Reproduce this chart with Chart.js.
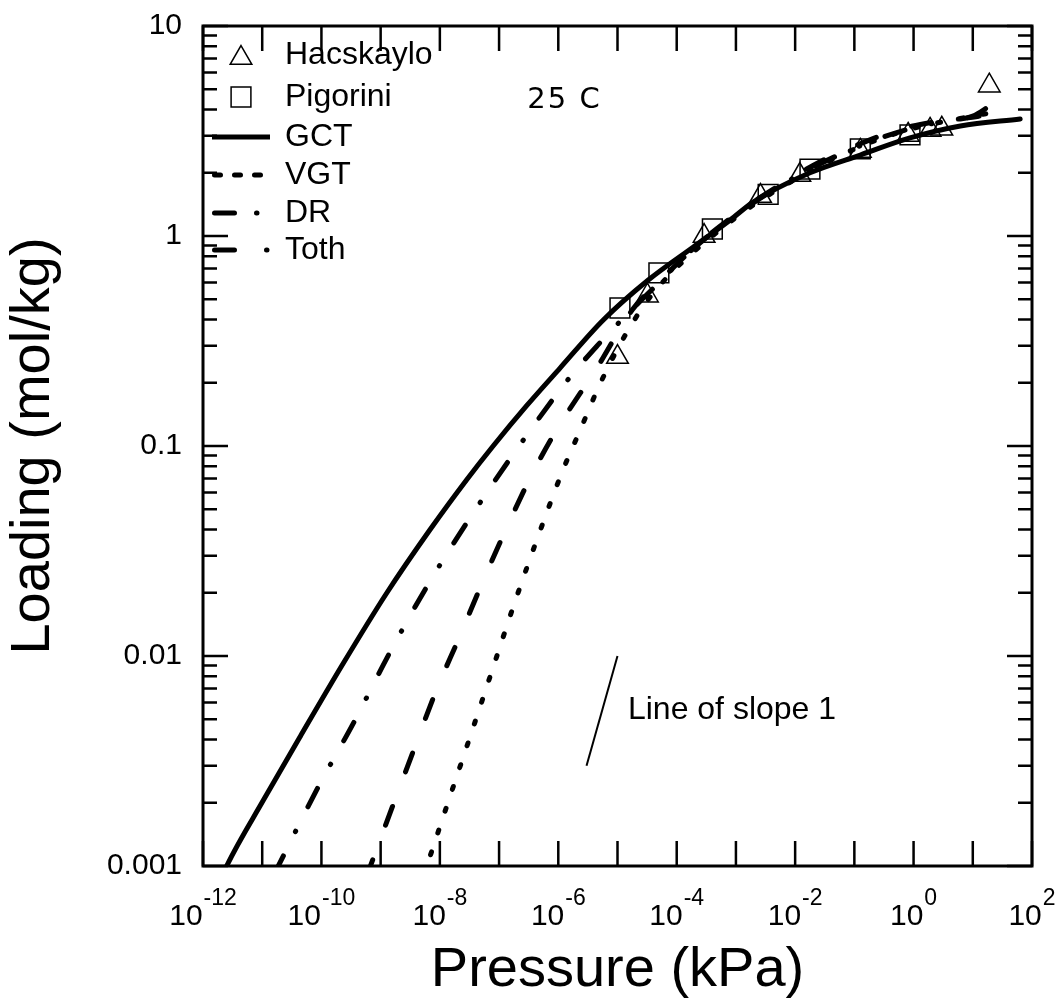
<!DOCTYPE html>
<html>
<head>
<meta charset="utf-8">
<script src="https://cdn.jsdelivr.net/npm/chart.js@4.4.1/dist/chart.umd.min.js"></script>
<style>
  html, body { margin: 0; padding: 0; background: #fff; }
  #wrap { width: 1060px; height: 1002px; }
</style>
</head>
<body>
<div id="wrap"><canvas id="chart" width="1060" height="1002"></canvas></div>
<script>
// measured points
const hacskayloP = [1.0e-5, 3.2e-5, 2.9e-4, 2.6e-3, 0.012, 0.126, 0.81, 1.9, 3.0, 19];
const hacskayloQ = [0.265, 0.52, 1.0, 1.55, 1.95, 2.54, 3.03, 3.2, 3.24, 5.2];
const pigoriniP = [1.1e-5, 5.0e-5, 4.0e-4, 3.5e-3, 0.0178, 0.126, 0.87];
const pigoriniQ = [0.454, 0.667, 1.08, 1.58, 2.08, 2.60, 3.03];

// model curves
const gctP = [2.1e-12, 2.51e-12, 1.05e-11, 4.37e-11, 2.34e-10, 1.26e-9, 6.76e-9, 2.82e-8, 7.94e-8, 2.95e-7,
  1.07e-6, 5.75e-6, 3.31e-5, 1.91e-4, 7.94e-4, 1.95e-3, 0.0178, 0.126, 0.871, 6.17, 63.1];
const gctQ = [8.9e-4, 0.001, 0.00206, 0.00413, 0.00923, 0.0199, 0.0398, 0.0689, 0.1, 0.156,
  0.235, 0.398, 0.617, 0.887, 1.19, 1.45, 2.0, 2.43, 2.93, 3.34, 3.61];

const vgtP = [5.25e-9, 1.48e-8, 3.47e-8, 7.94e-8, 1.86e-7, 4.57e-7, 1.2e-6, 2.34e-6, 5.13e-6, 1.26e-5,
  3.16e-5, 1e-4, 4e-4, 2e-3, 0.01, 0.05, 0.25, 1.26, 5, 19];
const vgtQ = [8.9e-4, 2.14e-3, 4.37e-3, 8.83e-3, 0.01816, 0.0372, 0.0769, 0.119, 0.199, 0.326,
  0.49, 0.708, 1.0, 1.41, 1.86, 2.37, 2.88, 3.31, 3.59, 3.85];

const drP = [1.58e-11, 8.9e-11, 3.47e-10, 1.45e-9, 6.76e-9, 3.47e-8, 2.14e-7, 1.58e-6, 4.68e-6, 1.26e-5,
  3.98e-5, 1.91e-4, 1e-3, 5e-3, 0.025, 0.126, 0.63, 3.16, 12.6, 19];
const drQ = [9.1e-4, 2.39e-3, 4.79e-3, 0.01047, 0.0226, 0.0469, 0.0993, 0.213, 0.303, 0.407,
  0.562, 0.871, 1.26, 1.70, 2.19, 2.69, 3.16, 3.51, 3.72, 3.80];

const tothP = [5.6e-10, 1.74e-9, 3.8e-9, 8.5e-9, 2.09e-8, 5.13e-8, 1.29e-7, 3.55e-7, 9.3e-7, 4.68e-6,
  1.78e-5, 6.3e-5, 2.5e-4, 1e-3, 5e-3, 0.025, 0.126, 0.63, 3.16, 10, 19.5];
const tothQ = [8.7e-4, 2.06e-3, 3.7e-3, 6.75e-3, 0.01213, 0.0221, 0.0398, 0.0728, 0.119, 0.240,
  0.445, 0.646, 0.933, 1.27, 1.72, 2.24, 2.75, 3.24, 3.55, 3.72, 4.17];

const slopeP = [3e-6, 1e-5];
const slopeQ = [3e-3, 1e-2];

// axes
const xTickVals = [1e-12, 1e-11, 1e-10, 1e-9, 1e-8, 1e-7, 1e-6, 1e-5, 1e-4, 1e-3, 1e-2, 1e-1, 1, 10, 100];
const xLabelVals = [1e-12, 1e-10, 1e-8, 1e-6, 1e-4, 1e-2, 1, 100];
const xLabelExps = ['-12', '-10', '-8', '-6', '-4', '-2', '0', '2'];
const yTickVals = [0.001, 0.01, 0.1, 1, 10];
const yTickLabels = ['0.001', '0.01', '0.1', '1', '10'];
const yMinorVals = [0.002, 0.003, 0.004, 0.005, 0.006, 0.007, 0.008, 0.009,
  0.02, 0.03, 0.04, 0.05, 0.06, 0.07, 0.08, 0.09,
  0.2, 0.3, 0.4, 0.5, 0.6, 0.7, 0.8, 0.9,
  2, 3, 4, 5, 6, 7, 8, 9];

const FONT = "'Liberation Sans', Arial, Helvetica, sans-serif";

function pts(xs, ys) {
  return xs.map((v, i) => ({x: v, y: ys[i]}));
}

function curve(label, xs, ys, dash, legendDash) {
  return {
    label: label,
    data: pts(xs, ys),
    showLine: true,
    borderColor: '#000',
    backgroundColor: '#000',
    borderWidth: 5,
    borderDash: dash,
    borderCapStyle: 'round',
    borderJoinStyle: 'round',
    cubicInterpolationMode: 'monotone',
    pointRadius: 0,
    pointHoverRadius: 0,
    clip: 0,
    legendDash: legendDash
  };
}

function marks(label, xs, ys, style, radius) {
  return {
    label: label,
    data: pts(xs, ys),
    showLine: false,
    pointStyle: style,
    pointRadius: radius,
    pointHoverRadius: radius,
    pointBorderWidth: 1.5,
    borderColor: '#000',
    backgroundColor: 'rgba(0,0,0,0)'
  };
}

const datasets = [
  marks('Hacskaylo', hacskayloP, hacskayloQ, 'triangle', 12.5),
  marks('Pigorini', pigoriniP, pigoriniQ, 'rect', 14),
  curve('GCT', gctP, gctQ, [], []),
  curve('VGT', vgtP, vgtQ, [3, 20], [6, 14]),
  curve('DR', drP, drQ, [21, 27, 0.5, 27], [20, 22, 0.5, 100]),
  curve('Toth', tothP, tothQ, [20, 37], [20, 32, 0.5, 100]),
  {
    label: 'slope',
    data: pts(slopeP, slopeQ),
    showLine: true,
    borderColor: '#000',
    borderWidth: 2,
    pointRadius: 0,
    pointHoverRadius: 0
  }
];

// legend rows, offsets from the chart area's top-left corner
const legendRows = [29, 71, 111, 149, 187, 224];

const framePlugin = {
  id: 'frame',
  afterDatasetsDraw(chart) {
    const {ctx, chartArea: a, scales: {x, y}} = chart;
    ctx.save();
    ctx.strokeStyle = '#000';
    ctx.lineCap = 'butt';

    // tick marks, all inside the frame
    ctx.lineWidth = 2.5;
    ctx.beginPath();
    xTickVals.forEach(v => {
      const px = x.getPixelForValue(v);
      ctx.moveTo(px, a.bottom); ctx.lineTo(px, a.bottom - 25);
      ctx.moveTo(px, a.top); ctx.lineTo(px, a.top + 25);
    });
    yTickVals.forEach(v => {
      const py = y.getPixelForValue(v);
      ctx.moveTo(a.left, py); ctx.lineTo(a.left + 25, py);
      ctx.moveTo(a.right, py); ctx.lineTo(a.right - 25, py);
    });
    yMinorVals.forEach(v => {
      const py = y.getPixelForValue(v);
      ctx.moveTo(a.left, py); ctx.lineTo(a.left + 14, py);
      ctx.moveTo(a.right, py); ctx.lineTo(a.right - 14, py);
    });
    ctx.stroke();

    ctx.lineWidth = 3;
    ctx.strokeRect(a.left, a.top, a.right - a.left, a.bottom - a.top);

    // x tick labels with exponents
    ctx.fillStyle = '#000';
    ctx.textBaseline = 'alphabetic';
    ctx.textAlign = 'left';
    xLabelVals.forEach((v, i) => {
      const px = x.getPixelForValue(v);
      ctx.font = '30px ' + FONT;
      const wBase = ctx.measureText('10').width;
      ctx.font = '23px ' + FONT;
      const wExp = ctx.measureText(xLabelExps[i]).width;
      const start = px - (wBase + 1 + wExp) / 2;
      ctx.font = '30px ' + FONT;
      ctx.fillText('10', start, a.bottom + 59);
      ctx.font = '23px ' + FONT;
      ctx.fillText(xLabelExps[i], start + wBase + 1, a.bottom + 39);
    });

    // annotations
    ctx.textBaseline = 'middle';
    ctx.font = '32px ' + FONT;
    ctx.fillText('Line of slope 1', x.getPixelForValue(1.5e-5), y.getPixelForValue(0.0055));
    ctx.font = "29px 'DejaVu Sans', sans-serif";
    if ('letterSpacing' in ctx) ctx.letterSpacing = '2px';
    ctx.fillText('25 C', x.getPixelForValue(3e-7), y.getPixelForValue(4.4));
    if ('letterSpacing' in ctx) ctx.letterSpacing = '0px';

    // legend
    const dsList = chart.data.datasets.slice(0, 6);
    dsList.forEach((ds, i) => {
      const cy = a.top + legendRows[i];
      if (ds.showLine) {
        ctx.save();
        ctx.lineWidth = ds.borderWidth;
        ctx.lineCap = ds.legendDash.length ? 'round' : 'butt';
        ctx.setLineDash(ds.legendDash);
        ctx.beginPath();
        ctx.moveTo(a.left + 9 + (ds.legendDash.length ? 2.5 : 0), cy);
        ctx.lineTo(a.left + 67, cy);
        ctx.stroke();
        ctx.restore();
      } else {
        ctx.save();
        ctx.lineWidth = ds.pointBorderWidth;
        ctx.strokeStyle = '#000';
        ctx.fillStyle = 'rgba(0,0,0,0)';
        Chart.helpers.drawPoint(ctx, {pointStyle: ds.pointStyle, radius: ds.pointRadius, borderWidth: ds.pointBorderWidth, rotation: 0}, a.left + 38, cy + (ds.pointStyle === 'triangle' ? 3 : 0));
        ctx.restore();
      }
      ctx.fillStyle = '#000';
      ctx.font = '32px ' + FONT;
      ctx.textBaseline = 'middle';
      ctx.fillText(ds.label, a.left + 82, cy);
    });
    ctx.restore();
  }
};

Chart.defaults.font.family = FONT;
Chart.defaults.color = '#000';

new Chart(document.getElementById('chart'), {
  type: 'scatter',
  data: { datasets: datasets },
  options: {
    responsive: false,
    animation: false,
    layout: { padding: { left: 0, top: 26, right: 28, bottom: 0 } },
    plugins: {
      legend: { display: false },
      tooltip: { enabled: false }
    },
    scales: {
      x: {
        type: 'logarithmic',
        min: 1e-12,
        max: 100,
        afterBuildTicks: s => { s.ticks = xTickVals.map(v => ({value: v})); },
        afterFit: s => { s.height = 136; s.paddingLeft = 0; s.paddingRight = 0; },
        grid: { display: false, drawTicks: false },
        border: { display: false },
        ticks: { display: false },
        title: {
          display: true,
          text: 'Pressure (kPa)',
          color: '#000',
          font: { size: 56, lineHeight: 1 },
          padding: { top: 0, bottom: 3 }
        }
      },
      y: {
        type: 'logarithmic',
        min: 0.001,
        max: 10,
        afterBuildTicks: s => { s.ticks = yTickVals.map(v => ({value: v})); },
        afterFit: s => { s.width = 203; s.paddingTop = 0; s.paddingBottom = 0; },
        grid: { display: false, drawTicks: false },
        border: { display: false },
        ticks: {
          autoSkip: false,
          padding: 21,
          color: '#000',
          font: { size: 30 },
          callback: (v, i) => yTickLabels[i]
        },
        title: {
          display: true,
          text: 'Loading (mol/kg)',
          color: '#000',
          font: { size: 56, lineHeight: 1 },
          padding: { top: 6, bottom: 0 }
        }
      }
    }
  },
  plugins: [framePlugin]
});
</script>
</body>
</html>
